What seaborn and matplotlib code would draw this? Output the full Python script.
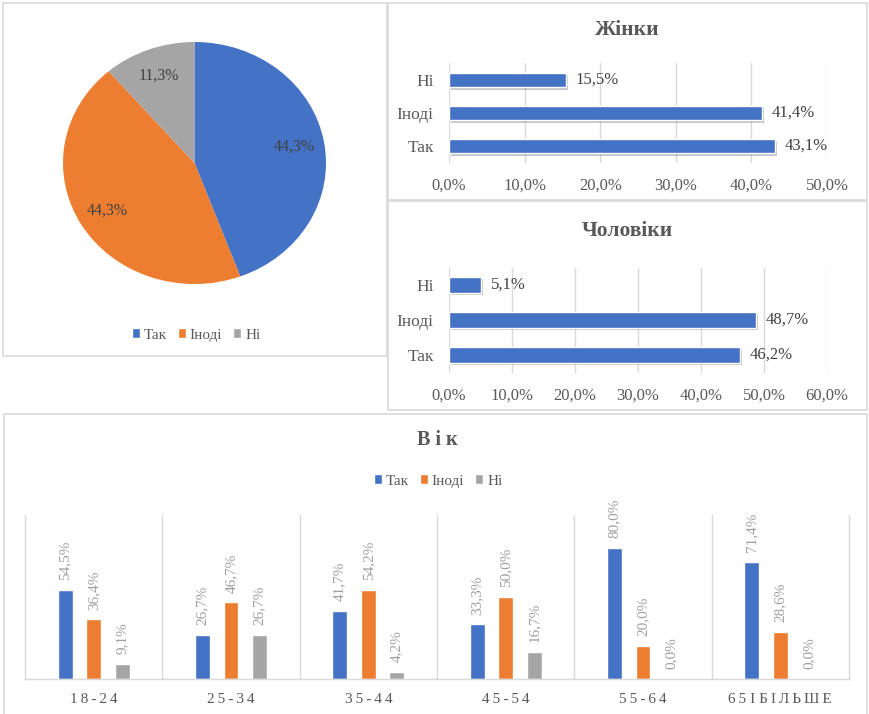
import matplotlib
matplotlib.use("Agg")
import matplotlib.pyplot as plt
import matplotlib.patheffects as pe
import numpy as np
import pandas as pd
import seaborn as sns
from matplotlib.patches import Rectangle, Patch

# ---- data -------------------------------------------------------------
answers = ["Так", "Іноді", "Ні"]
overall = [44.3, 44.3, 11.3]
women = [43.1, 41.4, 15.5]
men = [46.2, 48.7, 5.1]

age_groups = ["18-24", "25-34", "35-44", "45-54", "55-64", "65 І БІЛЬШЕ"]
age_yes = [54.5, 26.7, 41.7, 33.3, 80.0, 71.4]
age_sometimes = [36.4, 46.7, 54.2, 50.0, 20.0, 28.6]
age_no = [9.1, 26.7, 4.2, 16.7, 0.0, 0.0]

palette = {"Так": "#4472C4", "Іноді": "#ED7D31", "Ні": "#A5A5A5"}
TEXT = "#595959"
GRID = "#D9D9D9"

sns.set_theme(style="white")
plt.rcParams["font.family"] = ["Liberation Serif", "DejaVu Serif"]

W, H = 870, 714
fig = plt.figure(figsize=(W / 100, H / 100), dpi=100)


def box(left, top, right, bottom):
    return [left / W, 1 - bottom / H, (right - left) / W, (bottom - top) / H]


def pct(v):
    return f"{v:.1f}%".replace(".", ",")


def spaced(label):
    # letter-spaced category label: thin gaps inside words, one space between words
    return " ".join("\u2009".join(word) for word in label.split(" "))


# panel frames
for l, t, r, b in [(3, 3, 387, 356), (388, 3, 867, 200), (388, 201, 867, 410), (4, 414, 867, 730)]:
    fig.add_artist(Rectangle((l / W, 1 - b / H), (r - l) / W, (b - t) / H,
                             transform=fig.transFigure, fill=False,
                             edgecolor=GRID, linewidth=1.2))

# ---- overall pie -------------------------------------------------------
ax_pie = fig.add_axes(box(63, 42, 326, 284))
wedges, _ = ax_pie.pie(overall, colors=[palette[a] for a in answers],
                       startangle=90, counterclock=False,
                       wedgeprops=dict(linewidth=0))
for w, v in zip(wedges, overall):
    theta = np.deg2rad((w.theta1 + w.theta2) / 2)
    ax_pie.text(0.77 * np.cos(theta), 0.77 * np.sin(theta), pct(v),
                ha="center", va="center", fontsize=11.5, color="#404040")
ax_pie.set_aspect("auto")
ax_pie.set_xlim(-1, 1)
ax_pie.set_ylim(-1, 1)

handles = [Patch(facecolor=palette[a], label=a) for a in answers]
fig.legend(handles=handles, loc="center", bbox_to_anchor=(196 / W, 1 - 335 / H),
           ncol=3, frameon=False, fontsize=11, handlelength=0.55, handleheight=0.55,
           handletextpad=0.25, columnspacing=0.7, labelcolor=TEXT)


# ---- horizontal bars by gender ----------------------------------------
def gender_chart(rect, values, xmax, title, title_y, bar_w):
    ax = fig.add_axes(rect)
    df = pd.DataFrame({"answer": answers, "value": values})
    sns.barplot(data=df, y="answer", x="value", order=["Ні", "Іноді", "Так"],
                color=palette["Так"], saturation=1, width=bar_w, orient="h", ax=ax)
    for p in ax.patches:
        p.set_path_effects([pe.SimplePatchShadow(offset=(1.5, -1.5), alpha=0.25),
                            pe.Normal()])
    ax.set_xlim(0, xmax)
    ax.set_xticks(np.arange(0, xmax + 1, 10))
    ax.set_xticklabels([pct(t) for t in np.arange(0, xmax + 1, 10)])
    ax.xaxis.grid(True, color=GRID, linewidth=1)
    ax.set_axisbelow(True)
    for s in ax.spines.values():
        s.set_visible(False)
    ax.tick_params(axis="both", length=0, colors=TEXT)
    ax.tick_params(axis="x", pad=11, labelsize=12)
    ax.tick_params(axis="y", pad=11, labelsize=12.5)
    ax.set_xlabel("")
    ax.set_ylabel("")
    for c in ax.containers:
        ax.bar_label(c, labels=[pct(v) for v in c.datavalues], padding=7,
                     fontsize=12, color="#404040")
    fig.text(627 / W, 1 - title_y / H, title, ha="center", va="center",
             fontsize=15.5, fontweight="bold", color=TEXT)
    return ax


gender_chart(box(449, 63.5, 827, 162.5), women, 50, "Жінки", 30, 0.45)
gender_chart(box(449, 267.5, 827, 372.5), men, 60, "Чоловіки", 231, 0.46)

# ---- grouped bars by age -----------------------------------------------
ax_age = fig.add_axes(box(25, 515, 849, 679))
age_df = pd.DataFrame({"group": age_groups, "Так": age_yes,
                       "Іноді": age_sometimes, "Ні": age_no})
age_long = age_df.melt(id_vars="group", var_name="answer", value_name="value")
sns.barplot(data=age_long, x="group", y="value", hue="answer",
            hue_order=answers, order=age_groups, palette=palette, saturation=1,
            width=0.623, gap=0.475, legend=False, ax=ax_age)
ax_age.set_ylim(0, 100)
ax_age.set_xlim(-0.5, len(age_groups) - 0.5)
ax_age.set_yticks([])
ax_age.set_xticks(range(len(age_groups)))
ax_age.set_xticklabels([spaced(g) for g in age_groups])
ax_age.set_xticks(np.arange(0.5, len(age_groups) - 0.5, 1), minor=True)
ax_age.xaxis.grid(True, which="minor", color=GRID, linewidth=1)
ax_age.xaxis.grid(False, which="major")
ax_age.set_axisbelow(True)
ax_age.spines["top"].set_visible(False)
for s in ["left", "right", "bottom"]:
    ax_age.spines[s].set_color(GRID)
    ax_age.spines[s].set_linewidth(1)
ax_age.tick_params(axis="x", which="both", length=0, pad=10, labelsize=11, colors=TEXT)
ax_age.set_xlabel("")
ax_age.set_ylabel("")
for c in ax_age.containers:
    ax_age.bar_label(c, labels=[pct(v) for v in c.datavalues], rotation=90,
                     padding=7, fontsize=11, color="#A0A0A0")

fig.text(437 / W, 1 - 440 / H, "В і к", ha="center", va="center",
         fontsize=14.5, fontweight="bold", color=TEXT)
fig.legend(handles=handles, loc="center", bbox_to_anchor=(438 / W, 1 - 481 / H),
           ncol=3, frameon=False, fontsize=11, handlelength=0.55, handleheight=0.55,
           handletextpad=0.25, columnspacing=0.7, labelcolor=TEXT)

fig.savefig("out.png", dpi=100, facecolor="white")
